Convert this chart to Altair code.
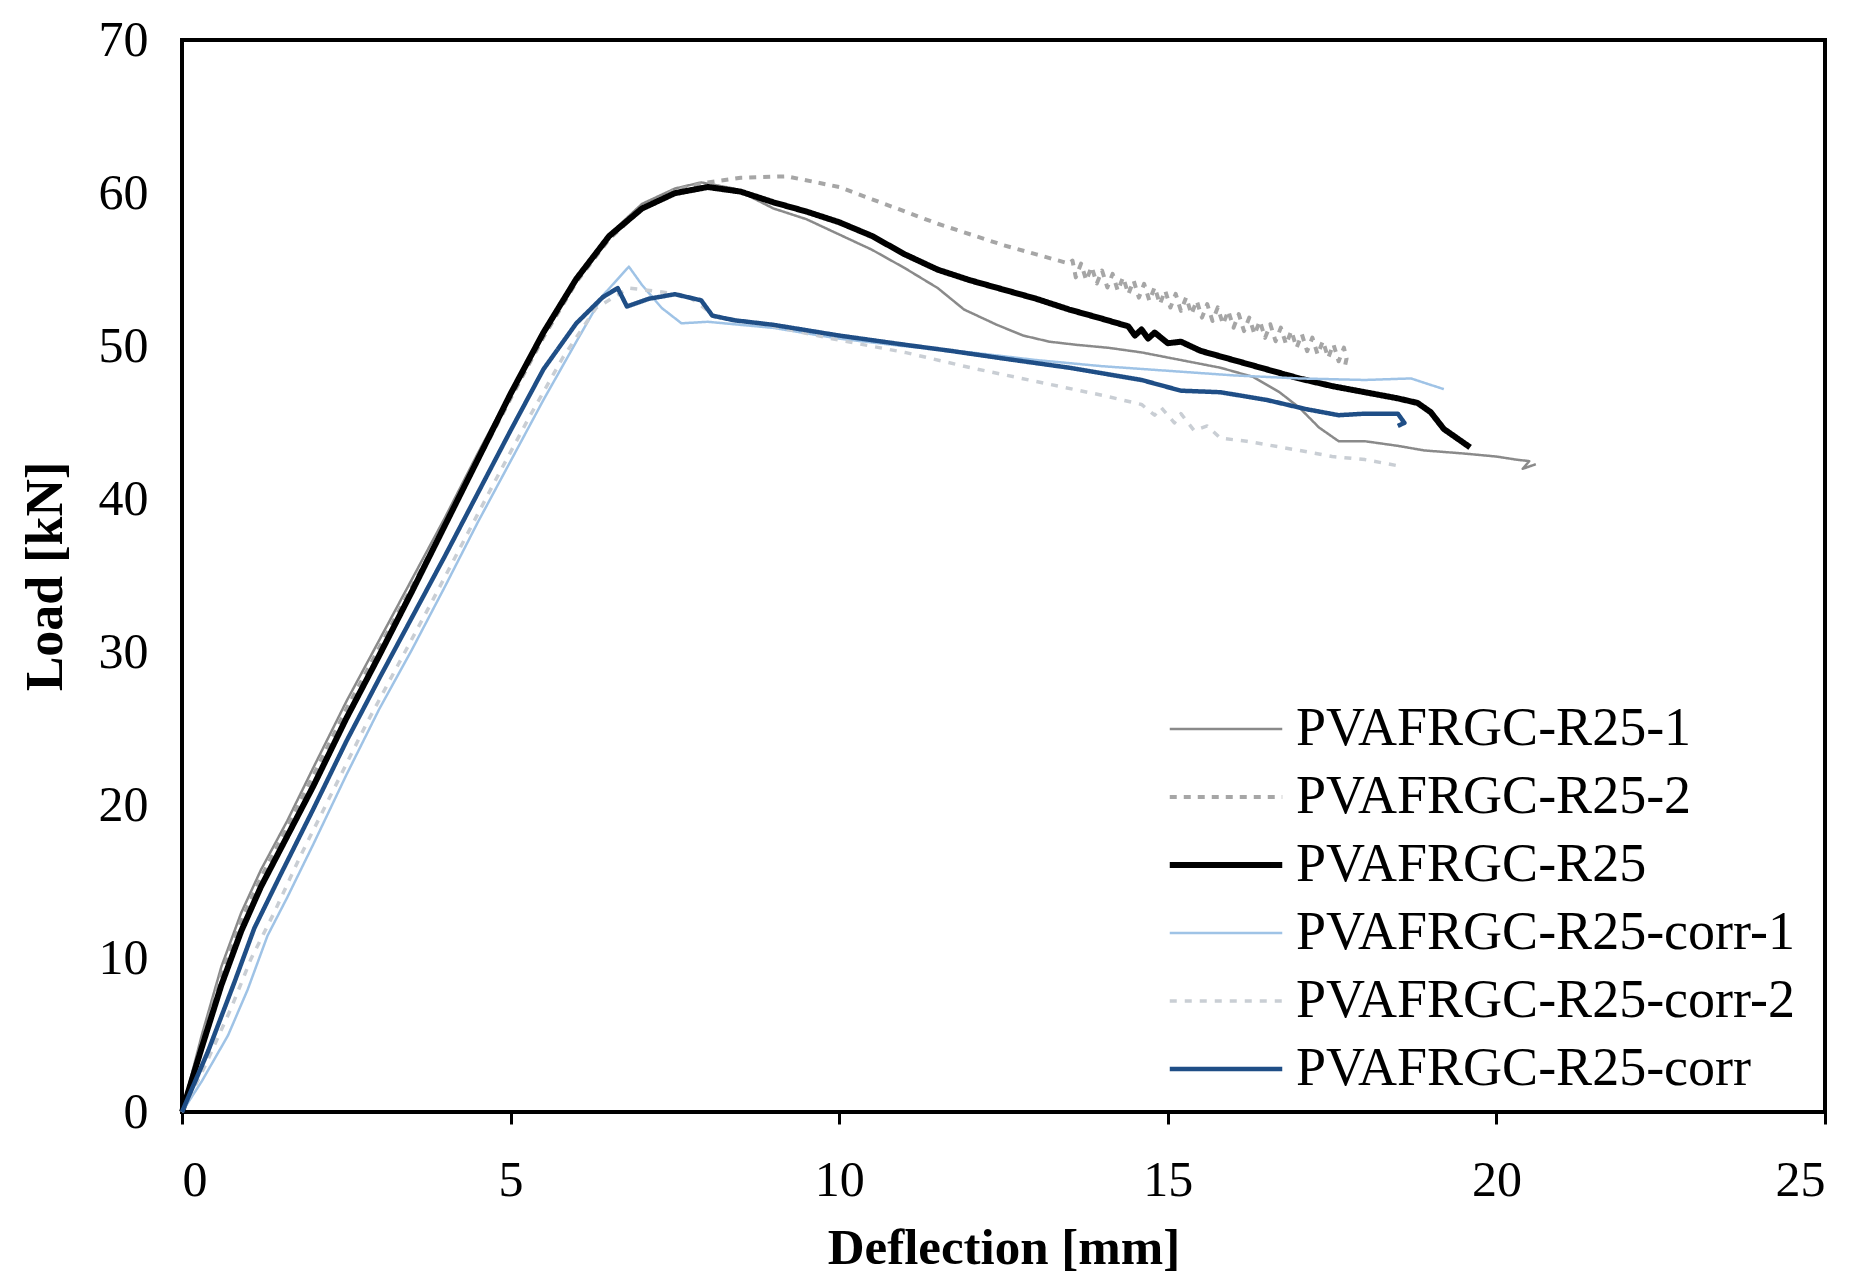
import altair as alt
import pandas as pd

series_names = [
    "PVAFRGC-R25-1",
    "PVAFRGC-R25-2",
    "PVAFRGC-R25",
    "PVAFRGC-R25-corr-1",
    "PVAFRGC-R25-corr-2",
    "PVAFRGC-R25-corr",
]

# PVAFRGC-R25-1 (thin grey)
r1_x = [0, 0.3, 0.6, 0.9, 1.2, 1.6, 2.0, 2.5, 3.0, 3.5, 4.0, 4.5, 5.0, 5.5, 6.0, 6.5, 7.0, 7.5, 7.9,
        8.4, 9.0, 9.5, 9.9, 10.5, 11.0, 11.5, 11.9, 12.4, 12.8, 13.2, 13.6, 14.1, 14.6, 15.2, 15.8,
        16.3, 16.7, 17.0, 17.3, 17.6, 18.0, 18.5, 18.9, 19.5, 20.0, 20.3, 20.5, 20.4, 20.6]
r1_y = [0, 5.0, 9.5, 13.0, 15.8, 19.0, 22.5, 26.8, 30.8, 34.8, 38.8, 43.0, 47.0, 51.0, 54.5, 57.3, 59.3, 60.3, 60.7,
        60.3, 59.0, 58.3, 57.5, 56.3, 55.1, 53.8, 52.4, 51.4, 50.7, 50.3, 50.1, 49.9, 49.6, 49.1, 48.6,
        48.0, 47.0, 46.0, 44.7, 43.8, 43.8, 43.5, 43.2, 43.0, 42.8, 42.6, 42.5, 42.0, 42.3]

# PVAFRGC-R25-2 (grey dashed, with a dense wavy stretch near the end)
r2_x = [0, 0.3, 0.6, 0.9, 1.2, 1.6, 2.0, 2.5, 3.0, 3.5, 4.0, 4.5, 5.0, 5.5, 6.0, 6.5, 7.0, 7.5, 8.0,
        8.5, 9.2, 10.0, 10.5, 11.0, 11.5, 12.0, 12.5, 13.0, 13.5,
        13.55, 13.6, 13.68, 13.76, 13.84, 13.92, 14.0, 14.08, 14.16, 14.24,
        14.32, 14.4, 14.48, 14.56, 14.64, 14.72, 14.8, 14.88, 14.96, 15.04,
        15.12, 15.2, 15.28, 15.36, 15.44, 15.52, 15.6, 15.68, 15.76, 15.84,
        15.92, 16.0, 16.08, 16.16, 16.24, 16.32, 16.4, 16.48, 16.56, 16.64,
        16.72, 16.8, 16.88, 16.96, 17.04, 17.12, 17.2, 17.28, 17.36, 17.44,
        17.52, 17.6, 17.68, 17.72, 17.7]
r2_y = [0, 4.5, 9.0, 12.5, 15.3, 18.6, 22.0, 26.3, 30.3, 34.3, 38.3, 42.5, 46.6, 50.6, 54.2, 57.0, 59.0, 60.2, 60.7,
        61.0, 61.1, 60.4, 59.6, 58.8, 58.0, 57.3, 56.6, 56.0, 55.4,
        55.6, 54.5, 55.4, 54.3, 55.2, 54.1, 54.95, 53.84, 54.73, 53.62,
        54.51, 53.40, 54.29, 53.18, 54.08, 52.97, 53.86, 52.75, 53.64, 52.53,
        53.42, 52.31, 53.20, 52.09, 52.98, 51.87, 52.76, 51.65, 52.54, 51.43,
        52.32, 51.21, 52.10, 50.99, 51.88, 50.77, 51.66, 50.55, 51.44, 50.33,
        51.22, 50.12, 51.01, 49.90, 50.79, 49.68, 50.57, 49.46, 50.35, 49.24,
        50.13, 49.02, 49.91, 49.2, 48.8]

# PVAFRGC-R25 (thick black)
r_x = [0, 0.3, 0.6, 0.9, 1.2, 1.6, 2.0, 2.5, 3.0, 3.5, 4.0, 4.5, 5.0, 5.5, 6.0, 6.5, 7.0, 7.5, 8.0,
       8.5, 9.0, 9.5, 10.0, 10.5, 11.0, 11.5, 12.0, 12.5, 13.0, 13.5, 14.0, 14.4, 14.5, 14.6, 14.7,
       14.8, 15.0, 15.2, 15.5, 16.0, 16.5, 17.0, 17.5, 18.0, 18.5, 18.8, 19.0, 19.2, 19.4, 19.6]
r_y = [0, 4.2, 8.3, 11.8, 14.7, 18.0, 21.3, 25.7, 29.8, 34.0, 38.3, 42.6, 46.9, 50.9, 54.4, 57.2, 59.0, 60.0, 60.4,
       60.1, 59.4, 58.8, 58.1, 57.2, 56.0, 55.0, 54.3, 53.7, 53.1, 52.4, 51.8, 51.3, 50.7, 51.1, 50.5,
       50.9, 50.2, 50.3, 49.7, 49.1, 48.5, 47.9, 47.4, 47.0, 46.6, 46.3, 45.7, 44.6, 44.0, 43.4]

# PVAFRGC-R25-corr-1 (thin light blue)
c1_x = [0, 0.3, 0.7, 1.0, 1.3, 1.6, 2.0, 2.5, 3.0, 3.5, 4.0, 4.5, 5.0, 5.5, 6.0, 6.4, 6.8,
        7.0, 7.3, 7.6, 8.0, 9.0, 10.0, 11.0, 12.0, 13.0, 14.0, 15.0, 16.0, 17.0, 18.0, 18.7, 19.2]
c1_y = [0, 2.0, 5.0, 8.0, 11.5, 14.0, 17.5, 22.0, 26.3, 30.2, 34.3, 38.5, 42.5, 46.5, 50.3, 53.3, 55.2,
        54.0, 52.5, 51.5, 51.6, 51.2, 50.5, 50.0, 49.6, 49.1, 48.7, 48.4, 48.1, 47.9, 47.8, 47.9, 47.2]

# PVAFRGC-R25-corr-2 (light dashed)
c2_x = [0, 0.35, 0.75, 1.05, 1.4, 1.8, 2.3, 2.8, 3.3, 3.8, 4.3, 4.8, 5.3, 5.8, 6.3, 6.8, 7.2, 7.7,
        8.1, 9.0, 10.0, 11.0, 12.0, 13.0, 14.0, 14.6, 14.8, 14.9, 15.1, 15.2, 15.4, 15.6, 15.8,
        16.2, 17.0, 17.5, 18.0, 18.5]
c2_y = [0, 3.0, 6.8, 10.0, 13.0, 16.7, 21.0, 25.3, 29.3, 33.3, 37.4, 41.5, 45.5, 49.3, 52.5, 53.8, 53.6, 53.3,
        52.0, 51.3, 50.4, 49.6, 48.6, 47.7, 46.8, 46.2, 45.5, 46.0, 45.0, 45.6, 44.5, 44.8, 44.0,
        43.8, 43.2, 42.8, 42.6, 42.2]

# PVAFRGC-R25-corr (thick dark blue)
c_x = [0, 0.4, 0.8, 1.1, 1.5, 2.0, 2.5, 3.0, 3.5, 4.0, 4.5, 5.0, 5.5, 6.0, 6.4, 6.63, 6.77,
       7.1, 7.5, 7.9, 8.07, 8.4, 9.0, 10.0, 11.0, 11.7, 12.5, 13.5, 14.6, 15.2, 15.8, 16.5, 17.1,
       17.6, 18.0, 18.5, 18.6, 18.5]
c_y = [0, 4.0, 8.5, 12.0, 15.5, 19.8, 24.2, 28.3, 32.3, 36.3, 40.4, 44.5, 48.5, 51.5, 53.2, 53.8, 52.6,
       53.1, 53.4, 53.0, 52.0, 51.7, 51.4, 50.7, 50.1, 49.7, 49.2, 48.6, 47.8, 47.1, 47.0, 46.5, 45.9,
       45.5, 45.6, 45.6, 45.0, 44.8]

all_x = [r1_x, r2_x, r_x, c1_x, c2_x, c_x]
all_y = [r1_y, r2_y, r_y, c1_y, c2_y, c_y]

rows = []
for name, xs, ys in zip(series_names, all_x, all_y):
    for i, (xv, yv) in enumerate(zip(xs, ys)):
        rows.append({"series": name, "x": xv, "y": yv, "i": i})
df = pd.DataFrame(rows)

colors = ["#8a8a8a", "#a6a6a6", "#000000", "#9fc3e6", "#c9ced4", "#1f4e86"]
dashes = [[1, 0], [7, 7], [1, 0], [1, 0], [7, 8], [1, 0]]
widths = [2.5, 4, 6, 2.5, 3.5, 4.5]

font = "Liberation Serif"

legend = alt.Legend(
    title=None,
    orient="none",
    legendX=1017,
    legendY=662,
    symbolType="M -2.5 0 L 2.5 0",
    symbolSize=2025,
    labelFont=font,
    labelFontSize=54,
    labelColor="black",
    labelOffset=43,
    labelBaseline="middle",
    rowPadding=14,
    padding=0,
    labelLimit=0,
)

chart = (
    alt.Chart(df)
    .mark_line(strokeCap="butt", strokeJoin="round")
    .encode(
        x=alt.X(
            "x:Q",
            scale=alt.Scale(domain=[0, 25], nice=False),
            axis=alt.Axis(
                title="Deflection [mm]",
                values=[0, 5, 10, 15, 20, 25],
                format="d",
                grid=False,
                domain=False,
                ticks=True,
                tickSize=12,
                tickWidth=3,
                tickColor="black",
                labelFont=font,
                labelFontSize=50,
                labelColor="black",
                labelBaseline="middle",
                labelPadding=56,
                titleFont=font,
                titleFontSize=51,
                titleFontWeight="bold",
                titleColor="black",
                titleBaseline="middle",
                titleY=136,
            ),
        ),
        y=alt.Y(
            "y:Q",
            scale=alt.Scale(domain=[0, 70], nice=False),
            axis=alt.Axis(
                title="Load [kN]",
                values=[0, 10, 20, 30, 40, 50, 60, 70],
                format="d",
                grid=False,
                domain=False,
                ticks=False,
                labelFont=font,
                labelFontSize=50,
                labelColor="black",
                labelPadding=34,
                titleFont=font,
                titleFontSize=52,
                titleFontWeight="bold",
                titleColor="black",
                titleBaseline="middle",
                titleX=-137,
                titleY=536,
            ),
        ),
        color=alt.Color(
            "series:N",
            scale=alt.Scale(domain=series_names, range=colors),
            legend=legend,
        ),
        strokeDash=alt.StrokeDash(
            "series:N",
            scale=alt.Scale(domain=series_names, range=dashes),
            legend=legend,
        ),
        strokeWidth=alt.StrokeWidth(
            "series:N",
            scale=alt.Scale(type="ordinal", domain=series_names, range=widths),
            legend=legend,
        ),
        order=alt.Order("i:Q"),
    )
    .properties(
        width=1643,
        height=1072,
        autosize=alt.AutoSizeParams(type="none"),
        padding={"left": 174, "top": 32, "right": 20, "bottom": 162},
    )
    .configure(background="white")
    .configure_view(stroke="black", strokeWidth=4)
)

chart.save("out.html", embed_options={"renderer": "svg", "actions": False})
